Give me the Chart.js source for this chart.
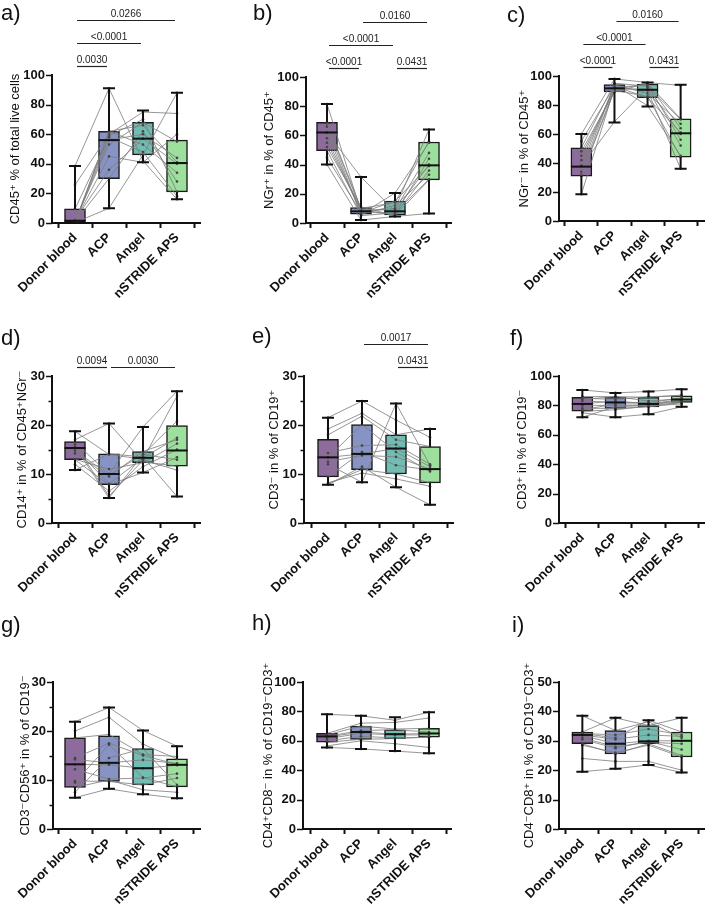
<!DOCTYPE html>
<html>
<head>
<meta charset="utf-8">
<script src="https://cdn.jsdelivr.net/npm/chart.js@4.4.1/dist/chart.umd.min.js"></script>
<style>
  body { margin: 0; background: #fff; }
  #page { position: relative; width: 708px; height: 908px; overflow: hidden; font-family: 'Liberation Sans', Arial, 'DejaVu Sans', sans-serif; }
  .cell { position: absolute; }
  .tag { position: absolute; font-size: 22px; line-height: 22px; color: #111; }
</style>
</head>
<body>
<div id="page"></div>
<script>
const categories = ['Donor blood', 'ACP', 'Angel', 'nSTRIDE APS'];
const boxColors = ['#8d6b9d', '#8793c5', '#72bdb3', '#9de09d'];

// box stats per group: [min, q1, median, q3, max]
const boxA = [[0, 0.5, 1.5, 9.5, 38.5], [10, 30, 56, 62, 91], [41, 46, 57, 68, 76], [16, 21, 40.5, 56, 88]];
const boxB = [[40, 49.5, 62, 69, 81.5], [2, 6, 8, 10.5, 31.5], [4.5, 5.5, 8, 15, 20.5], [6.5, 29.5, 39.5, 55.5, 64]];
const boxC = [[18.5, 31, 37.5, 50.5, 60], [68, 89, 91.5, 94, 98], [79, 85, 90.5, 94.5, 95.5], [36, 44, 60.5, 70.5, 94]];
const boxD = [[10.8, 12.9, 15.3, 16.6, 18.7], [5.1, 7.8, 10, 14.1, 20.3], [10.3, 12.3, 13.3, 14.6, 19.6], [5.4, 11.6, 14.8, 19.9, 26.9]];
const boxE = [[7.8, 9.4, 13.4, 17.1, 21.5], [8.3, 10.9, 14.1, 20.1, 24.9], [7.3, 10, 15.2, 18, 24.4], [3.7, 8.2, 11, 15.6, 19.2]];
const boxF = [[72, 76, 81, 85.5, 90.5], [72, 78, 82, 85.5, 88.5], [74, 79, 81, 85.5, 89.5], [79, 82, 84, 86.5, 91]];
const boxG = [[6.4, 8.5, 13.2, 18.6, 21.9], [8.2, 9.7, 13.5, 19, 24.8], [7.1, 9, 12.4, 16.4, 20.1], [6.3, 8.6, 13.1, 14.3, 16.9]];
const boxH = [[55.5, 59, 63, 65, 78], [54.5, 61, 66, 70, 77], [53, 61.5, 64.5, 67.5, 76], [51.5, 62.5, 65, 68.5, 79.5]];
const boxI = [[19.5, 29, 32, 33, 38.5], [20.5, 25.5, 29, 33.5, 37.8], [21.8, 29, 29.8, 35.2, 37], [19.2, 24.5, 30, 33, 37.8]];

// paired donors: one row per donor, values for the 4 groups
const pairsA = [[0.5, 62, 66, 41], [1, 56, 60, 44], [0.3, 10, 46, 88], [38.5, 91, 42, 16], [25.7, 60, 75, 74], [2, 36, 57, 40],
  [1.5, 53, 68, 55], [0.8, 30, 62, 28], [9.5, 58, 48, 18], [0.2, 62, 53, 34], [1.2, 45, 41, 60], [0.6, 59, 70, 21]];
const pairsB = [[81.5, 8, 10, 64], [69, 10, 14, 56], [66, 6, 20.5, 55], [62, 31.5, 8, 40], [58, 8, 6, 44], [55, 9, 5.5, 36],
  [49.5, 5, 7, 30], [45, 7, 15, 39], [40, 2, 4.5, 6.5], [68, 9, 9, 48], [52, 11, 5, 29.5], [62, 6, 12, 33]];
const pairsC = [[18.5, 92, 90, 36], [31, 90, 86, 44], [34, 94, 79.5, 45], [38, 68.5, 92, 60], [42, 92, 94, 56], [45, 91, 94.5, 64],
  [50.5, 95, 93, 70], [55, 93, 85, 61], [60, 98, 95.5, 93.5], [32, 91, 91, 52], [48, 89, 95, 70.5], [38, 94, 88, 67]];
const pairsD = [[18.7, 14, 13, 25.9], [17, 20.3, 12.5, 11.6], [16.5, 10, 19.6, 26.9], [15.5, 5.1, 14, 20.8], [15.3, 8, 13.3, 17.4],
  [14.2, 9.5, 14.6, 17], [13, 11, 12.3, 16.2], [12.9, 7.8, 10.3, 13.4], [10.8, 14.1, 13.5, 5.4], [16, 5.5, 12.8, 10.8],
  [14.8, 9.8, 14, 12.9], [12, 6.5, 11.5, 15]];
const pairsE = [[21.5, 24.9, 21, 17.5], [19.2, 22.4, 18, 19.2], [18, 21.8, 17, 15.6], [14.3, 15.8, 16, 12], [13.4, 14.1, 15.2, 11.5],
  [12.5, 13.8, 13.5, 11], [12, 8.3, 24.4, 11.8], [9.4, 14.5, 11.8, 10.8], [8, 10.9, 10, 8.2], [7.8, 11.5, 7.3, 3.7],
  [13.4, 20.1, 14.5, 10.5], [8.2, 10.2, 9, 7.5]];
const pairsF = [[90.5, 88.5, 89.5, 91], [86, 86, 85.5, 87], [85, 84, 86, 86.5], [83, 82, 82, 85], [81, 83, 81, 84], [80, 80, 80, 83.5],
  [78, 78, 79, 82], [76, 77, 79.5, 81], [75, 72, 74, 79], [72, 79, 80, 82], [84, 86, 83, 84.5], [77, 81, 81, 83]];
const pairsG = [[21.9, 24.8, 20.1, 16.9], [20, 22.8, 17.3, 14.3], [18.6, 19.3, 15.2, 14.8], [14.5, 17.5, 15, 13.2], [14.2, 13.5, 14.1, 13.4],
  [13.2, 13.1, 12.4, 13], [12.2, 10.2, 10.4, 11.3], [9.8, 9.7, 9, 10.4], [9.5, 17.2, 10.5, 8.6], [8.5, 10, 8, 7.5],
  [6.4, 8.2, 7.1, 6.3], [7.5, 14.5, 16.4, 9]];
const pairsH = [[78, 77, 74, 79.5], [65, 72, 72.5, 75.5], [64, 70, 68, 68.5], [63, 67, 67.5, 66], [62.5, 66, 64.5, 65],
  [61.5, 65, 64, 64], [60, 63, 62, 62.5], [59, 61, 61.5, 62.5], [56.5, 60, 58, 55.5], [55.5, 54.5, 53, 51.5]];
const pairsI = [[38.5, 33.5, 36.5, 31], [33, 37.8, 35.2, 37.8], [32.5, 31, 37, 33], [32, 30.5, 32, 31.5], [31.8, 29, 30, 30],
  [31, 28, 29.5, 29], [30.5, 27.5, 29.8, 27], [29, 25.5, 29, 25], [28.5, 26, 28.5, 24.5], [24, 23, 23, 20],
  [19.5, 20.5, 21.8, 19.2], [32.5, 32, 34, 32]];

// significance: [from, to, label, level]
const sigA = [[0, 1, '0.0030', 0], [0, 2, '<0.0001', 1], [0, 3, '0.0266', 2]];
const sigB = [[0, 1, '<0.0001', 0], [2, 3, '0.0431', 0], [0, 2, '<0.0001', 1], [1, 3, '0.0160', 2]];
const sigC = [[0, 1, '<0.0001', 0], [2, 3, '0.0431', 0], [0, 2, '<0.0001', 1], [1, 3, '0.0160', 2]];
const sigD = [[0, 1, '0.0094', 0], [1, 3, '0.0030', 0]];
const sigE = [[2, 3, '0.0431', 0], [1, 3, '0.0017', 1]];

// y axes: [max, minor step, labelled step]
const yAxes = [[100, 10, 20], [100, 10, 20], [100, 10, 20], [30, 5, 10], [30, 5, 10], [100, 10, 20], [30, 5, 10], [100, 10, 20], [50, 5, 10]];
const yTitles = [
  'CD45\u207A % of total live cells',
  'NGr\u207A in % of CD45\u207A',
  'NGr\u207B in % of CD45\u207A',
  'CD14\u207A in % of CD45\u207ANGr\u207B',
  'CD3\u207B in % of CD19\u207A',
  'CD3\u207A in % of CD19\u207B',
  'CD3\u207BCD56\u207A in % of CD19\u207B',
  'CD4\u207ACD8\u207B in % of CD19\u207BCD3\u207A',
  'CD4\u207BCD8\u207A in % of CD19\u207BCD3\u207A'
];
const tags = ['a)', 'b)', 'c)', 'd)', 'e)', 'f)', 'g)', 'h)', 'i)'];

const panels = [
  { box: boxA, pairs: pairsA, sig: sigA },
  { box: boxB, pairs: pairsB, sig: sigB },
  { box: boxC, pairs: pairsC, sig: sigC },
  { box: boxD, pairs: pairsD, sig: sigD },
  { box: boxE, pairs: pairsE, sig: sigE },
  { box: boxF, pairs: pairsF, sig: [] },
  { box: boxG, pairs: pairsG, sig: [] },
  { box: boxH, pairs: pairsH, sig: [] },
  { box: boxI, pairs: pairsI, sig: [] }
];

// layout of each panel (pixels inside its cell)
const layouts = [
  { left: 0, top: 0, h: 300, axisX: 52, pt: 75, pb: 223, end: 200, cat0: 75, gap: 37, tag: [1, 2] },
  { left: 236, top: 0, h: 300, axisX: 70, pt: 77, pb: 223, end: 215, cat0: 91, gap: 37, tag: [253, 2] },
  { left: 472, top: 0, h: 300, axisX: 87, pt: 76, pb: 221, end: 236, cat0: 110, gap: 35, tag: [507, 4] },
  { left: 0, top: 300, h: 310, axisX: 52, pt: 76, pb: 223, end: 200, cat0: 75, gap: 30, tag: [1, 327] },
  { left: 236, top: 300, h: 310, axisX: 68, pt: 76, pb: 223, end: 217, cat0: 92, gap: 30, tag: [252, 325] },
  { left: 472, top: 300, h: 310, axisX: 87, pt: 76, pb: 223, end: 236, cat0: 111, gap: 37, tag: [510, 327] },
  { left: 0, top: 610, h: 298, axisX: 53, pt: 72, pb: 219, end: 200, cat0: 75, gap: 28, tag: [1, 614] },
  { left: 236, top: 610, h: 298, axisX: 67, pt: 72, pb: 219, end: 215, cat0: 91, gap: 35, tag: [252, 612] },
  { left: 472, top: 610, h: 298, axisX: 87, pt: 72, pb: 219, end: 236, cat0: 111, gap: 30, tag: [512, 614] }
];

const FONT = "'Liberation Sans', Arial, 'DejaVu Sans', sans-serif";
const SPACING = 34;
const Y_W = 52;

function makeExtras(p, yAxis) {
  return {
    id: 'extras',
    afterDatasetsDraw(chart) {
      const ctx = chart.ctx;
      const xs = chart.scales.x, ys = chart.scales.y, area = chart.chartArea;
      ctx.save();
      // whiskers + medians
      ctx.strokeStyle = '#111';
      ctx.lineWidth = 2;
      p.box.forEach((s, i) => {
        const x = xs.getPixelForValue(i);
        const yMin = ys.getPixelForValue(s[0]);
        const yQ1 = ys.getPixelForValue(s[1]);
        const yMed = ys.getPixelForValue(s[2]);
        const yQ3 = ys.getPixelForValue(s[3]);
        const yMax = ys.getPixelForValue(s[4]);
        ctx.beginPath();
        ctx.moveTo(x, yQ1); ctx.lineTo(x, yMin);
        ctx.moveTo(x - 6, yMin); ctx.lineTo(x + 6, yMin);
        ctx.moveTo(x, yQ3); ctx.lineTo(x, yMax);
        ctx.moveTo(x - 6, yMax); ctx.lineTo(x + 6, yMax);
        ctx.stroke();
        ctx.beginPath();
        ctx.moveTo(x - 10.5, yMed); ctx.lineTo(x + 10.5, yMed);
        ctx.stroke();
      });
      // y ticks, long ones where labelled
      ctx.lineWidth = 1.5;
      ys.ticks.forEach(t => {
        const y = Math.round(ys.getPixelForValue(t.value)) + 0.5;
        const len = t.value % yAxis[2] === 0 ? 6 : 3.5;
        ctx.beginPath();
        ctx.moveTo(area.left - len, y); ctx.lineTo(area.left, y);
        ctx.stroke();
      });
      // significance brackets
      ctx.lineWidth = 1.2;
      ctx.strokeStyle = '#222';
      ctx.fillStyle = '#222';
      ctx.font = '10px ' + FONT;
      ctx.textAlign = 'center';
      ctx.textBaseline = 'alphabetic';
      p.sig.forEach(s => {
        const x1 = xs.getPixelForValue(s[0]) + 2;
        const x2 = xs.getPixelForValue(s[1]) - 2;
        const y = Math.round(area.top - 9 - s[3] * 23) + 0.5;
        ctx.beginPath();
        ctx.moveTo(x1, y); ctx.lineTo(x2, y);
        ctx.stroke();
        ctx.fillText(s[2], (x1 + x2) / 2, y - 4);
      });
      ctx.restore();
    }
  };
}

const page = document.getElementById('page');

panels.forEach((p, k) => {
  const L = layouts[k];
  const yAxis = yAxes[k];

  const cv = document.createElement('canvas');
  cv.className = 'cell';
  cv.width = 236;
  cv.height = L.h;
  cv.style.left = L.left + 'px';
  cv.style.top = L.top + 'px';
  page.appendChild(cv);

  const tag = document.createElement('div');
  tag.className = 'tag';
  tag.textContent = tags[k];
  tag.style.left = L.tag[0] + 'px';
  tag.style.top = L.tag[1] + 'px';
  page.appendChild(tag);

  const xMin = -(L.cat0 - L.axisX) / SPACING;
  const xMax = 3 + (L.end - L.cat0 - 3 * SPACING) / SPACING;

  const datasets = [{
    type: 'bar',
    data: p.box.map((s, i) => ({ x: i, y: [s[1], s[3]] })),
    backgroundColor: boxColors,
    borderColor: '#1a1a1a',
    borderWidth: 1.5,
    borderSkipped: false,
    barThickness: 21,
    order: 2
  }];
  p.pairs.forEach(row => {
    datasets.push({
      type: 'line',
      data: row.map((v, i) => ({ x: i, y: v })),
      borderColor: 'rgba(125,125,125,0.9)',
      borderWidth: 0.9,
      pointRadius: 1.3,
      pointBackgroundColor: '#444',
      pointBorderWidth: 0,
      order: 1
    });
  });

  new Chart(cv, {
    type: 'bar',
    data: { datasets },
    options: {
      responsive: false,
      animation: false,
      events: [],
      layout: { padding: { left: L.axisX - Y_W, right: 236 - L.end, top: L.pt, bottom: 0 } },
      plugins: { legend: { display: false }, tooltip: { enabled: false } },
      scales: {
        x: {
          type: 'linear',
          bounds: 'data',
          min: xMin,
          max: xMax,
          offset: false,
          afterBuildTicks: s => { s.ticks = [0, 1, 2, 3].map(v => ({ value: v })); },
          afterFit: s => { s.height = L.h - L.pb; },
          grid: { display: true, drawOnChartArea: false, drawTicks: true, tickLength: 5, tickColor: '#111', tickWidth: 2 },
          border: { display: true, color: '#111', width: 2 },
          ticks: {
            autoSkip: false,
            maxRotation: 45,
            minRotation: 45,
            padding: 2,
            color: '#111',
            font: { size: 13, weight: 'bold', family: FONT },
            callback: v => categories[Math.round(v)]
          }
        },
        y: {
          type: 'linear',
          min: 0,
          max: yAxis[0],
          afterFit: s => { s.width = Y_W; },
          grid: { display: false, drawTicks: true, tickLength: 6 },
          border: { display: true, color: '#111', width: 2 },
          ticks: {
            stepSize: yAxis[1],
            padding: 1,
            color: '#111',
            font: { size: 13, weight: 'bold', family: FONT },
            callback: v => (v % yAxis[2] === 0 ? v : '')
          },
          title: {
            display: true,
            text: yTitles[k],
            color: '#111',
            font: { size: 13, family: FONT },
            padding: { top: Y_W - L.gap - 7.8, bottom: 0 }
          }
        }
      }
    },
    plugins: [makeExtras(p, yAxis)]
  });
});
</script>
</body>
</html>
